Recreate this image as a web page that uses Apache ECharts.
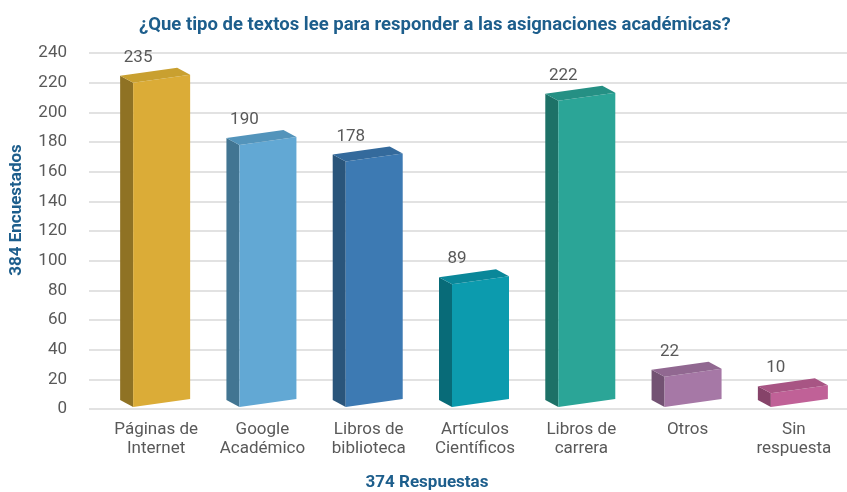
<!DOCTYPE html>
<html>
<head>
<meta charset="utf-8">
<script src="https://cdn.jsdelivr.net/npm/echarts@6/dist/echarts.min.js"></script>
<style>
  html, body { margin: 0; padding: 0; background: #fff; }
  #chart { width: 847px; height: 492px; }
</style>
</head>
<body>
<div id="chart"></div>
<script>
// data
var categories = ['Páginas de\nInternet', 'Google\nAcadémico', 'Libros de\nbiblioteca', 'Artículos\nCientíficos', 'Libros de\ncarrera', 'Otros', 'Sin\nrespuesta']
var values = [235, 190, 178, 89, 222, 22, 10]
var yMin = 0
var yMax = 240
var yStep = 20

// bar colours: front, left side, top
var frontColors = ['#dbac37', '#62a8d4', '#3d7ab3', '#0c9bae', '#2ba597', '#a678a6', '#c06197']
var sideColors = ['#8f7224', '#427592', '#2a557b', '#086b78', '#1d7167', '#735273', '#864369']
var topColors = ['#c9a030', '#5394bb', '#346a9c', '#0a8799', '#259084', '#916891', '#a85584']

var textGray = '#595959'
var blue = '#1d5e8c'
var font = 'Roboto'

var chart = echarts.init(document.getElementById('chart'))

function renderBar(params, api) {
  var i = api.value(0)
  var v = api.value(1)
  var base = api.coord([i, 0])
  var h = api.size([0, v])[1] * 0.93 // perspective makes bars a bit shorter
  var w = 57
  var slope = 8
  var dx = -13
  var dy = -7
  var x0 = base[0] - 23
  var x1 = x0 + w
  var yl = base[1] - 2
  var yr = yl - slope
  var front = [[x0, yl], [x1, yr], [x1, yr - h], [x0, yl - h]]
  var side = [[x0 + dx, yl + dy], [x0, yl], [x0, yl - h], [x0 + dx, yl - h + dy]]
  var top = [[x0, yl - h], [x1, yr - h], [x1 + dx, yr - h + dy], [x0 + dx, yl - h + dy]]
  return {
    type: 'group',
    children: [
      { type: 'polygon', shape: { points: side }, style: { fill: sideColors[i] } },
      { type: 'polygon', shape: { points: front }, style: { fill: frontColors[i] } },
      { type: 'polygon', shape: { points: top }, style: { fill: topColors[i] } },
      {
        type: 'text',
        x: x0 + 5,
        y: yl - h - 25,
        style: {
          text: String(v),
          fill: textGray,
          font: '17px ' + font,
          align: 'center',
          verticalAlign: 'middle'
        }
      }
    ]
  }
}

chart.setOption({
  animation: false,
  title: {
    text: '¿Que tipo de textos lee para responder a las asignaciones académicas?',
    left: 134,
    top: 11,
    textStyle: { color: blue, fontFamily: font, fontWeight: 'bold', fontSize: 18.5 }
  },
  graphic: [
    {
      type: 'text',
      x: 17,
      y: 210,
      rotation: Math.PI / 2,
      style: {
        text: '384 Encuestados',
        fill: blue,
        font: 'bold 17px ' + font,
        align: 'center',
        verticalAlign: 'middle'
      }
    },
    {
      type: 'text',
      x: 427,
      y: 483,
      style: {
        text: '374 Respuestas',
        fill: blue,
        font: 'bold 17px ' + font,
        align: 'center',
        verticalAlign: 'middle'
      }
    }
  ],
  grid: [
    { left: 89, right: 0, top: 53, bottom: 83 }, // gridlines + y labels
    { left: 103, width: 763, top: 53, bottom: 83 } // bars + categories
  ],
  xAxis: [
    { type: 'value', gridIndex: 0, show: false },
    {
      type: 'category',
      gridIndex: 1,
      data: categories,
      axisLine: { show: false },
      axisTick: { show: false },
      axisLabel: {
        color: textGray,
        fontFamily: font,
        fontSize: 17,
        lineHeight: 19,
        margin: 11,
        interval: 0
      }
    }
  ],
  yAxis: [
    {
      type: 'value',
      gridIndex: 0,
      min: yMin,
      max: yMax,
      interval: yStep,
      axisLine: { show: false },
      axisTick: { show: false },
      axisLabel: { color: textGray, fontFamily: font, fontSize: 17, margin: 22 },
      splitLine: { lineStyle: { color: '#d9d9d9', width: 1.5 } }
    },
    { type: 'value', gridIndex: 1, min: yMin, max: yMax, show: false }
  ],
  series: [{
    type: 'custom',
    xAxisIndex: 1,
    yAxisIndex: 1,
    clip: false,
    renderItem: renderBar,
    encode: { x: 0, y: 1 },
    data: values.map(function (v, i) { return [i, v] })
  }]
})
</script>
</body>
</html>
